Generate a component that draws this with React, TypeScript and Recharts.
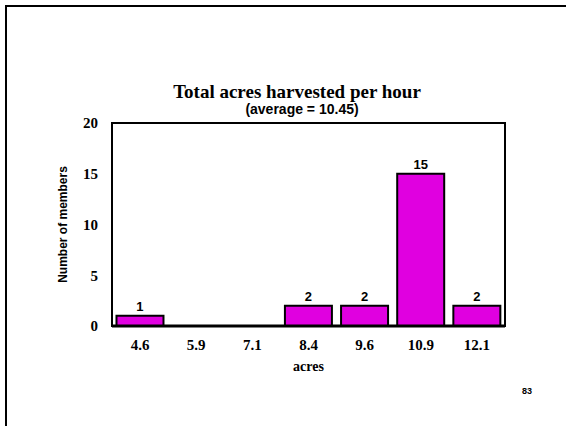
import { BarChart, Bar, XAxis, YAxis, LabelList, ReferenceArea } from 'recharts'

const acres = ['4.6', '5.9', '7.1', '8.4', '9.6', '10.9', '12.1']
const members = [1, 0, 0, 2, 2, 15, 2]
const yTicks = [0, 5, 10, 15, 20]

const SERIF = '"Liberation Serif", "Times New Roman", serif'
const SANS = '"Liberation Sans", Arial, sans-serif'

const data = acres.map((a, i) => ({ acres: a, members: members[i] }))

export default function App() {
  return (
    <div style={{ position: 'absolute', left: 0, top: 0, width: 566, height: 426, background: '#fff', overflow: 'hidden' }}>
      {/* slide frame */}
      <div style={{ position: 'absolute', left: 5, top: 5, width: 570, height: 430, borderTop: '2px solid #000', borderLeft: '2px solid #000' }} />
      <div style={{ position: 'absolute', left: 97, width: 400, top: 82, textAlign: 'center', fontFamily: SERIF, fontWeight: 'bold', fontSize: 19, lineHeight: '19px' }}>
        Total acres harvested per hour
      </div>
      <div style={{ position: 'absolute', left: 102, width: 400, top: 102, textAlign: 'center', fontFamily: SANS, fontWeight: 'bold', fontSize: 14, lineHeight: '14px' }}>
        (average = 10.45)
      </div>
      <div style={{ position: 'absolute', left: 522, top: 386, fontFamily: SANS, fontWeight: 'bold', fontSize: 9 }}>83</div>
      <div style={{ position: 'absolute', left: 0, top: 0 }}>
        <BarChart width={566} height={426} data={data} margin={{ top: 123, right: 61, left: 0, bottom: 0 }} barCategoryGap="8%">
          <ReferenceArea y1={0} y2={20} fill="none" stroke="#000" strokeWidth={2} ifOverflow="visible" />
          <XAxis
            dataKey="acres"
            height={100}
            tickLine={false}
            tickSize={0}
            tickMargin={13}
            axisLine={{ stroke: '#000', strokeWidth: 3 }}
            tick={{ fill: '#000', fontFamily: SERIF, fontWeight: 'bold', fontSize: 15 }}
            label={{ value: 'acres', position: 'insideTop', offset: 35, fill: '#000', fontFamily: SERIF, fontWeight: 'bold', fontSize: 14 }}
          />
          <YAxis
            width={112}
            domain={[0, 20]}
            ticks={yTicks}
            interval={0}
            tickLine={false}
            tickSize={0}
            tickMargin={14}
            axisLine={{ stroke: '#000', strokeWidth: 2 }}
            tick={{ fill: '#000', fontFamily: SERIF, fontWeight: 'bold', fontSize: 15 }}
            label={{ value: 'Number of members', angle: -90, position: 'center', dx: 7, fill: '#000', fontFamily: SANS, fontWeight: 'bold', fontSize: 12 }}
          />
          <Bar dataKey="members" fill="#e000e0" stroke="#000" strokeWidth={2} isAnimationActive={false}>
            <LabelList dataKey="members" position="top" offset={5} fill="#000" fontFamily={SANS} fontWeight="bold" fontSize={13} />
          </Bar>
        </BarChart>
      </div>
    </div>
  )
}
